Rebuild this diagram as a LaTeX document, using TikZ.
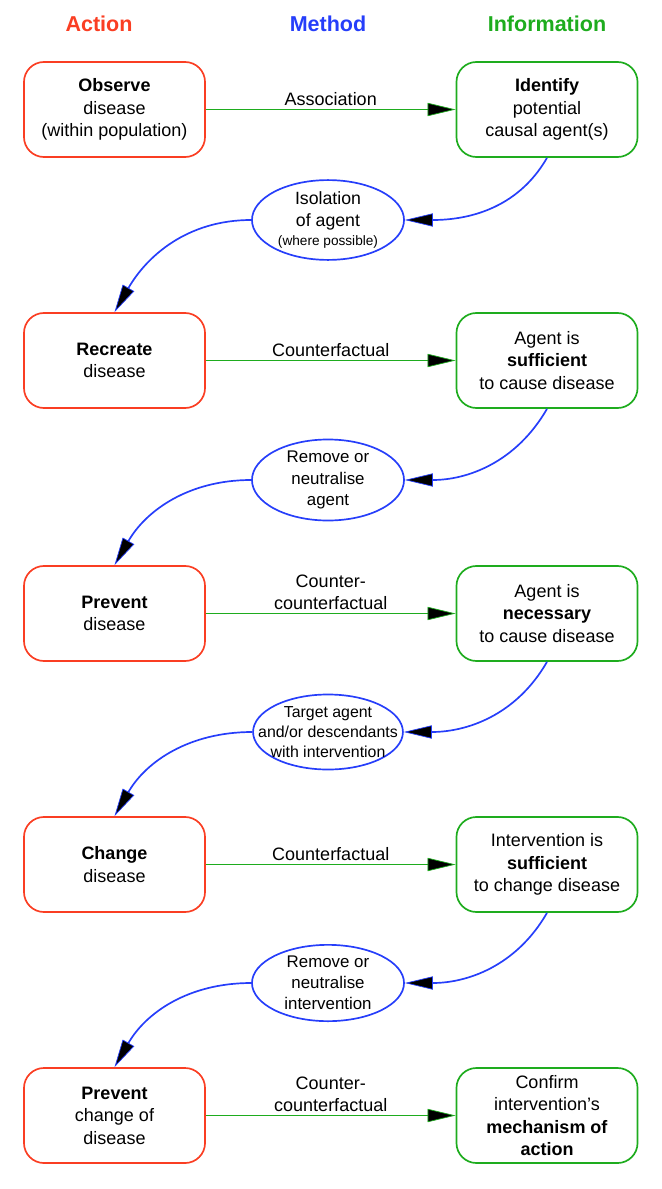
\documentclass[tikz,border=0pt]{standalone}
\usepackage{fontspec}
\setmainfont{Liberation Sans}
\usetikzlibrary{arrows.meta,shapes.geometric}
\definecolor{actred}{RGB}{250,62,35}
\definecolor{methblue}{RGB}{38,62,250}
\definecolor{infogreen}{RGB}{30,172,30}
\begin{document}
\begin{tikzpicture}[x=0.025cm, y=-0.025cm,
    actbox/.style={draw=actred, line width=1.2pt, rounded corners=0.5cm, minimum width=4.525cm, minimum height=2.375cm, inner sep=1pt, align=center, font=\fontsize{12.8}{16}\selectfont},
    infobox/.style={actbox, draw=infogreen},
    methell/.style={ellipse, draw=methblue, line width=1.2pt, minimum width=3.8cm, minimum height=1.875cm, inner sep=0pt, align=center, font=\fontsize{12}{15}\selectfont},
    header/.style={font=\fontsize{15.3}{18}\selectfont\bfseries},
    greenarrow/.style={draw=infogreen, line width=1.2pt, -{Triangle[length=0.7cm,width=0.33cm,fill=black,line width=0.5pt]}},
    bluearrow/.style={draw=methblue, line width=1.2pt, -{Triangle[length=0.7cm,width=0.33cm,fill=black,line width=0.5pt]}},
    armlabel/.style={midway, above, inner sep=2pt, align=center, font=\fontsize{12.8}{16}\selectfont}]
    % Fix the page to the size of the reference
    \useasboundingbox (0,0) rectangle (662,1189);

    % Column headers
    \node[header, text=actred] (hact) at (99,24) {Action};
    \node[header, text=methblue] (hmeth) at (328,24) {Method};
    \node[header, text=infogreen] (hinfo) at (547,24) {Information};

    % Row 1: observe / identify
    \node[actbox] (observe) at (114.5,109.5) {\textbf{Observe}\\disease\\(within population)};
    \node[infobox] (identify) at (547,109.5) {\textbf{Identify}\\potential\\causal agent(s)};
    \draw[greenarrow] (observe.east) -- (identify.west) node[armlabel] {Association};

    % Isolation of the agent leads back to the action column
    \node[methell, font=\fontsize{12.6}{15.5}\selectfont] (isolate) at (328,220) {Isolation\\of agent\\[-2pt]{\fontsize{9.7}{11}\selectfont(where possible)}};
    \draw[bluearrow] (identify.south) to[out=-120, in=0] (isolate.east);

    % Row 2: recreate / sufficient
    \node[actbox] (recreate) at (114.5,360.5) {\textbf{Recreate}\\disease};
    \node[infobox] (sufficient) at (547,360.5) {Agent is\\\textbf{sufficient}\\to cause disease};
    \draw[greenarrow] (recreate.east) -- (sufficient.west) node[armlabel] {Counterfactual};
    \draw[bluearrow] (isolate.west) to[out=180, in=60] (recreate.north);

    % Remove or neutralise the agent
    \node[methell] (remove) at (328,480) {Remove or\\neutralise\\agent};
    \draw[bluearrow] (sufficient.south) to[out=-120, in=0] (remove.east);

    % Row 3: prevent / necessary
    \node[actbox] (prevent) at (114.5,613.5) {\textbf{Prevent}\\disease};
    \node[infobox] (necessary) at (547,613.5) {Agent is\\\textbf{necessary}\\to cause disease};
    \draw[greenarrow] (prevent.east) -- (necessary.west) node[armlabel] {Counter-\\counterfactual};
    \draw[bluearrow] (remove.west) to[out=180, in=60] (prevent.north);

    % Target the agent with an intervention (text is wider than the others)
    \node[methell, font=\fontsize{11.3}{14.3}\selectfont, inner xsep=-0.42cm, minimum width=3.73cm] (target) at (328,732) {Target agent\\and/or descendants\\with intervention};
    \draw[bluearrow] (necessary.south) to[out=-120, in=0] (target.east);

    % Row 4: change / intervention sufficient
    \node[actbox] (change) at (114.5,864.5) {\textbf{Change}\\disease};
    \node[infobox] (intsuff) at (547,864.5) {Intervention is\\\textbf{sufficient}\\to change disease};
    \draw[greenarrow] (change.east) -- (intsuff.west) node[armlabel] {Counterfactual};
    \draw[bluearrow] (target.west) to[out=180, in=60] (change.north);

    % Remove or neutralise the intervention
    \node[methell] (remint) at (328,983) {Remove or\\neutralise\\intervention};
    \draw[bluearrow] (intsuff.south) to[out=-120, in=0] (remint.east);

    % Row 5: prevent change / mechanism
    \node[actbox] (prevchange) at (114.5,1115.5) {\textbf{Prevent}\\change of\\disease};
    \node[infobox] (mechanism) at (547,1115.5) {Confirm\\intervention’s\\\textbf{mechanism of}\\\textbf{action}};
    \draw[greenarrow] (prevchange.east) -- (mechanism.west) node[armlabel] {Counter-\\counterfactual};
    \draw[bluearrow] (remint.west) to[out=180, in=60] (prevchange.north);
\end{tikzpicture}
\end{document}
